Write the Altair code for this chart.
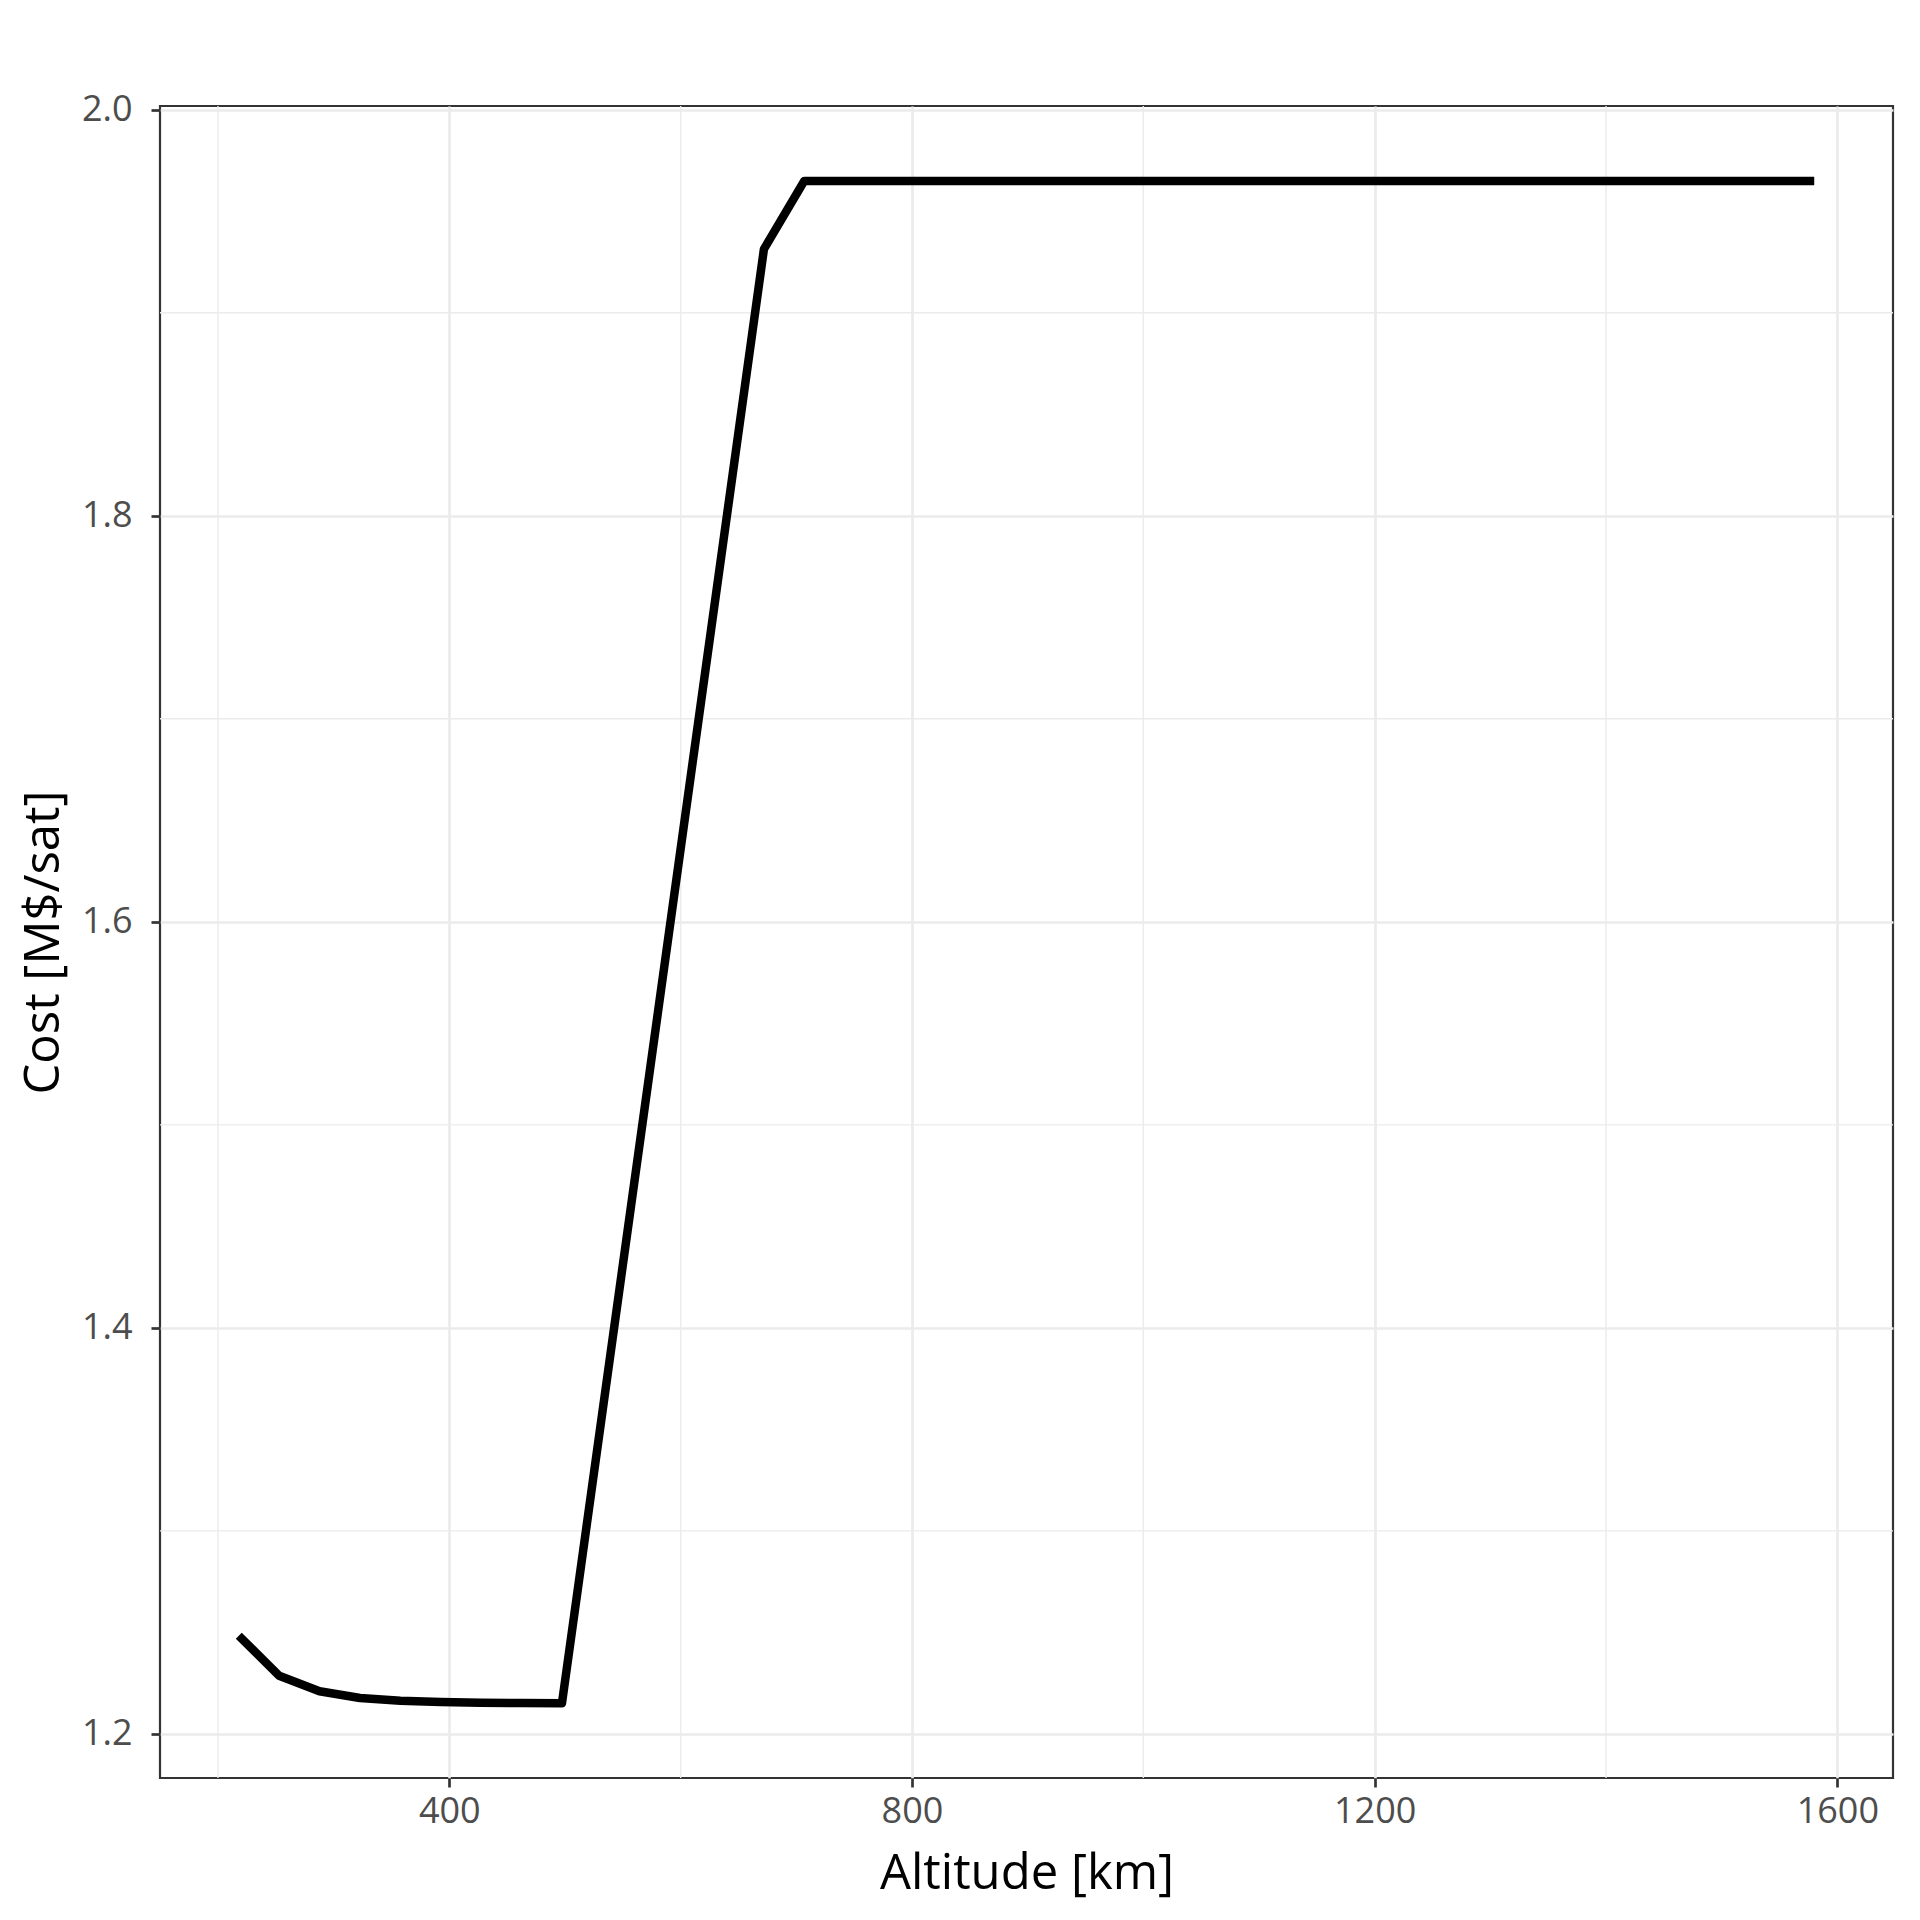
import altair as alt
import pandas as pd

altitude = [218, 252.9, 287.8, 322.8, 357.7, 392.6, 427.5, 462.5, 497.4, 672.0, 706.9, 1580.0]
cost = [1.2484, 1.2287, 1.2210, 1.2177, 1.2164, 1.2157, 1.2154, 1.2152, 1.2151, 1.9313, 1.9649, 1.9649]

x_major = [400, 800, 1200, 1600]
x_minor = [200, 600, 1000, 1400]
y_major = [1.2, 1.4, 1.6, 1.8, 2.0]
y_minor = [1.3, 1.5, 1.7, 1.9]

df = pd.DataFrame({"altitude": altitude, "cost": cost})
xminor_df = pd.DataFrame({"v": x_minor})
yminor_df = pd.DataFrame({"v": y_minor})

FONT = "Open Sans"
xscale = alt.Scale(domain=[149.9, 1648.1], nice=False, zero=False)
yscale = alt.Scale(domain=[1.1783, 2.0018], nice=False, zero=False)

xaxis = alt.Axis(title="Altitude [km]", values=x_major, format="d", grid=True, gridColor="#EBEBEB",
                 gridWidth=2.7, domain=False, tickColor="#333333", tickSize=9, tickWidth=2.7,
                 labelColor="#4D4D4D", labelFontSize=36, labelFont=FONT, labelPadding=7,
                 titleFont=FONT, titleFontSize=49, titleFontWeight="normal", titleColor="black",
                 titlePadding=20)
yaxis = alt.Axis(title="Cost [M$/sat]", values=y_major, format=".1f", grid=True, gridColor="#EBEBEB",
                 gridWidth=2.7, domain=False, tickColor="#333333", tickSize=9, tickWidth=2.7,
                 labelColor="#4D4D4D", labelFontSize=36, labelFont=FONT, labelPadding=19,
                 titleFont=FONT, titleFontSize=49, titleFontWeight="normal", titleColor="black",
                 titlePadding=13)

xminor = alt.Chart(xminor_df).mark_rule(color="#EBEBEB", strokeWidth=1.4).encode(
    x=alt.X("v:Q", scale=xscale, axis=xaxis)
)
yminor = alt.Chart(yminor_df).mark_rule(color="#EBEBEB", strokeWidth=1.4).encode(
    y=alt.Y("v:Q", scale=yscale, axis=yaxis)
)

line = alt.Chart(df).mark_line(color="black", strokeWidth=8.5, strokeJoin="round", strokeCap="butt").encode(
    x=alt.X("altitude:Q", scale=xscale, axis=xaxis),
    y=alt.Y("cost:Q", scale=yscale, axis=yaxis),
)

chart = alt.layer(xminor, yminor, line).properties(
    width=1733, height=1672,
    padding={"left": 152, "top": 98, "right": 19, "bottom": 134},
    autosize=alt.AutoSizeParams(type="none"),
    background="white",
).configure_view(stroke="#333333", strokeWidth=2.2)

chart.save("out.html", embed_options={"renderer": "svg", "actions": False})
